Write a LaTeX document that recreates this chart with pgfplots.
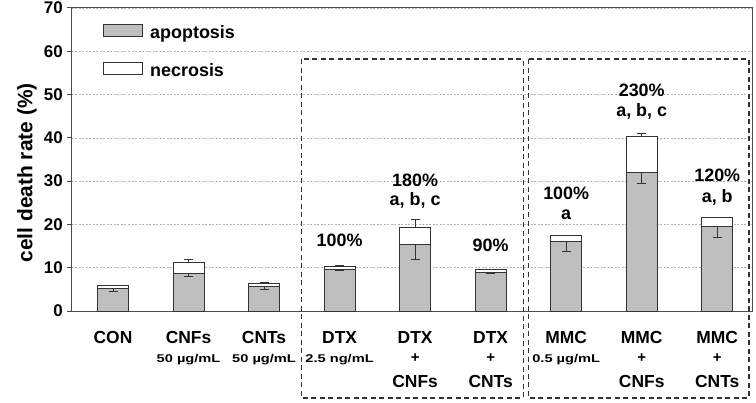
\documentclass[border=0pt]{standalone}
\usepackage{pgfplots}
\pgfplotsset{compat=1.18}
\usepackage{pgfplotstable}
\usepackage{fontspec}
\setmainfont{Liberation Sans}
\newfontfamily\wideA[FakeStretch=1.3]{Liberation Sans}
\DeclareRobustCommand{\subl}[1]{{\wideA\bfseries\fontsize{11.3}{21}\selectfont #1}}
\DeclareRobustCommand{\pl}{{\fontsize{15}{21}\selectfont +}}
\definecolor{edge}{HTML}{333333}
\definecolor{apo}{HTML}{BFBFBF}

% apoptosis and total (apoptosis + necrosis) cell death rate, %
\pgfplotstableread{
x apo apoerr total necerr
0 5.3 0.8 5.8 0.2
1 8.7 0.8 11.3 0.5
2 5.7 0.7 6.4 0.2
3 9.5 0.1 10.2 0.3
4 15.4 3.4 19.2 2.0
5 8.9 0.2 9.7 0.0
6 16.0 2.3 17.5 0.0
7 32.1 2.6 40.2 0.9
8 19.5 2.6 21.7 0.0
}\data

\begin{document}
\begin{tikzpicture}
\begin{axis}[
  scale only axis, width=680bp, height=303bp,
  xmin=-0.543, xmax=8.46, ymin=0, ymax=70,
  ybar, bar width=31bp,
  clip=false,
  axis line style={draw=black!70, line width=1bp},
  ytick={0,10,...,70},
  yticklabels={0,10,20,30,40,50,60,70},
  yticklabel style={font=\bfseries\fontsize{17}{20}\selectfont, inner sep=0pt, xshift=-4bp},
  ytick pos=left, tick align=outside, major tick length=5bp,
  ytick style={draw=black!70, line width=1bp},
  ymajorgrids, grid style={draw=black!30, dash pattern=on 2bp off 1.5bp, line width=0.6bp},
  xtick={0,...,8},
  xtick style={draw=none},
  xticklabels={
    {CON},
    {CNFs\\[-2bp]\subl{50 µg/mL}},
    {CNTs\\[-2bp]\subl{50 µg/mL}},
    {DTX\\[-2bp]\subl{2.5 ng/mL}},
    {DTX\\[-2bp]\pl\\[4bp]CNFs},
    {DTX\\[-2bp]\pl\\[4bp]CNTs},
    {MMC\\[-2bp]\subl{0.5 µg/mL}},
    {MMC\\[-2bp]\pl\\[4bp]CNFs},
    {MMC\\[-2bp]\pl\\[4bp]CNTs}},
  xticklabel style={font=\bfseries\fontsize{17.5}{21}\selectfont, align=center, anchor=north, inner sep=0pt, yshift=-15bp},
  ylabel={cell death rate (\%)},
  ylabel style={font=\bfseries\fontsize{21}{24}\selectfont, at={(rel axis cs:-0.0662,0.456)}, anchor=center, rotate=0},
  legend cell align=left,
  legend style={at={(rel axis cs:0.0412,0.955)}, anchor=north west, draw=none, fill=none,
    font=\bfseries\fontsize{18}{21}\selectfont, row sep=17bp, column sep=5bp,
    nodes={inner sep=2bp, text height=13bp, text depth=4bp}},
  legend image code/.code={\draw[#1, line width=1bp] (0bp,-2bp) rectangle (39bp,10bp);},
]
% total bar (necrosis part shows in white above apoptosis)
\addplot[forget plot, bar shift=0pt, fill=white, draw=edge, line width=1bp,
  error bars/.cd, y dir=plus, y explicit,
  error bar style={line width=1bp, draw=edge},
  error mark options={line width=1bp, draw=edge, mark size=4.5bp, rotate=90}]
  table[x=x, y=total, y error=necerr] {\data};
\addplot[forget plot, bar shift=0pt, fill=apo, draw=edge, line width=1bp,
  error bars/.cd, y dir=minus, y explicit,
  error bar style={line width=1bp, draw=edge},
  error mark options={line width=1bp, draw=edge, mark size=4.5bp, rotate=90}]
  table[x=x, y=apo, y error=apoerr] {\data};
\addlegendimage{fill=apo, draw=edge}
\addlegendentry{apoptosis}
\addlegendimage{fill=white, draw=edge}
\addlegendentry{necrosis}

\begin{scope}[font=\bfseries\fontsize{18}{21}\selectfont]
\node at (axis cs:3,16.4) {100\%};
\node at (axis cs:4,30.3) {180\%};
\node at (axis cs:4,25.6) {a, b, c};
\node at (axis cs:5,15.2) {90\%};
\node at (axis cs:6,27.3) {100\%};
\node at (axis cs:6,22.2) {a};
\node at (axis cs:7,51.0) {230\%};
\node at (axis cs:7,46.0) {a, b, c};
\node at (axis cs:8,31.4) {120\%};
\node at (axis cs:8,26.3) {a, b};
\end{scope}

\draw[draw=edge, line width=1.2bp, dash pattern=on 5bp off 3.5bp] (axis cs:2.50,58.2) rectangle (axis cs:5.43,-20.1);
\draw[draw=edge, line width=1.2bp, dash pattern=on 5bp off 3.5bp] (axis cs:5.50,58.2) rectangle (axis cs:8.42,-20.1);

\coordinate (bbA) at (rel axis cs:-0.10588,-0.3036);
\coordinate (bbB) at (rel axis cs:1.00588,1.0264);
\end{axis}
\pgfresetboundingbox
\path (bbA) rectangle (bbB);
\end{tikzpicture}
\end{document}
